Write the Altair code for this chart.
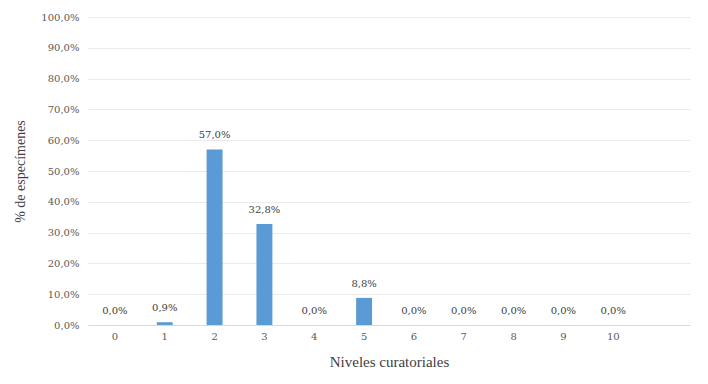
import altair as alt
import pandas as pd

niveles = ["0", "1", "2", "3", "4", "5", "6", "7", "8", "9", "10"]
porcentajes = [0.0, 0.9, 57.0, 32.8, 0.0, 8.8, 0.0, 0.0, 0.0, 0.0, 0.0]
etiquetas = ["0,0%", "0,9%", "57,0%", "32,8%", "0,0%", "8,8%", "0,0%", "0,0%", "0,0%", "0,0%", "0,0%"]

df = pd.DataFrame({"nivel": niveles, "pct": porcentajes, "etiqueta": etiquetas})

dominio = niveles + [" "]
FONT = "DejaVu Serif"
TFONT = "Liberation Serif"
TXT = "#595959"

x = alt.X("nivel:N", scale=alt.Scale(domain=dominio, paddingInner=0.68, paddingOuter=0.38),
          sort=None,
          axis=alt.Axis(title="Niveles curatoriales", labelAngle=0, ticks=False,
                        domainColor="#D9D9D9", labelFont=FONT, labelFontSize=10,
                        labelColor=TXT, labelPadding=6, titleFont=TFONT, titleFontSize=15,
                        titleFontWeight="normal", titleColor="#404040", titlePadding=13,
                        grid=False))
y = alt.Y("pct:Q", scale=alt.Scale(domain=[0, 100]),
          axis=alt.Axis(title="%  de especímenes", values=list(range(0, 101, 10)),
                        labelExpr="replace(format(datum.value, '.1f'), '.', ',') + '%'",
                        ticks=False, domain=False, gridColor="#EAEAEA",
                        labelFont=FONT, labelFontSize=10, labelColor=TXT, labelPadding=9,
                        titleFont=TFONT, titleFontSize=14, titleFontWeight="normal",
                        titleColor="#404040", titlePadding=13))

bars = alt.Chart(df).mark_bar(color="#5B9BD5").encode(x=x, y=y)
text = alt.Chart(df).mark_text(dy=-9, baseline="bottom", font=FONT, fontSize=10, color="#404040").encode(
    x=x, y=y, text="etiqueta:N")

chart = (bars + text).properties(
    width=602, height=308,
    autosize=alt.AutoSizeParams(type="none"),
    padding={"left": 80, "top": 9, "right": 10, "bottom": 50},
    background="white",
).configure_view(stroke=None, strokeWidth=0)

chart.save("out.html", embed_options={"renderer": "svg", "actions": False})
